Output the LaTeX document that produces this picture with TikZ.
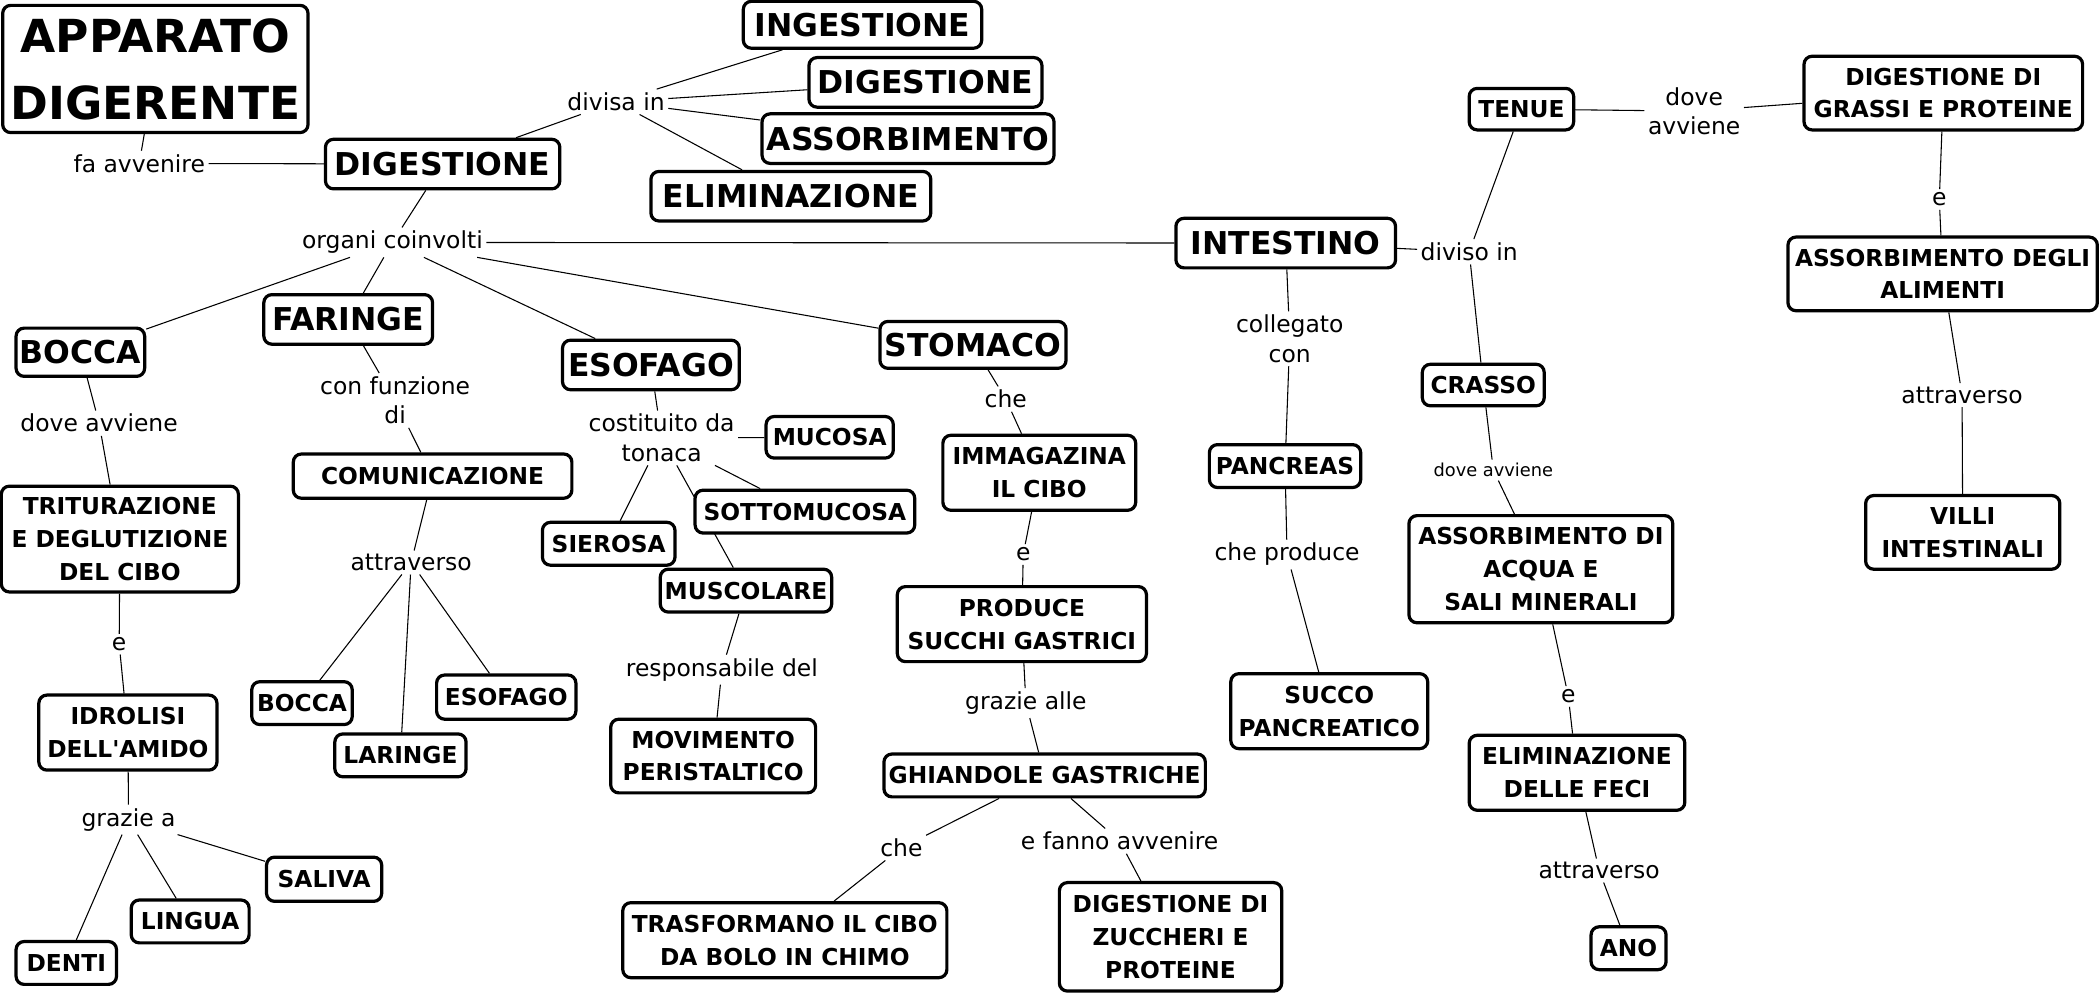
\documentclass[tikz,border=0pt]{standalone}
\usepackage{fontspec}
\setmainfont{DejaVu Sans}[Ligatures=TeXOff]
\usetikzlibrary{backgrounds}
\tikzset{
  box/.style={draw, fill=white, line width=2.4pt, rounded corners=6pt, inner sep=0pt, align=center},
  bigbox/.style={box, font=\fontsize{23.5}{28}\selectfont\bfseries},
  smallbox/.style={box, font=\fontsize{17.4}{24.5}\selectfont\bfseries},
  lab/.style={font=\fontsize{17.5}{22}\selectfont, inner sep=2.5pt, align=center},
  link/.style={line width=0.8pt},
}
\begin{document}
\begin{tikzpicture}[x=1pt,y=-1pt]
\useasboundingbox (0,0) rectangle (1568,741.4);
% top
\node[bigbox, minimum width=228, minimum height=95, font=\fontsize{34}{50}\selectfont\bfseries] (app) at (116,51.5) {APPARATO\\DIGERENTE};
\node[lab] (faav) at (104,122) {fa avvenire};
\node[bigbox, minimum width=175, minimum height=37] (dig) at (330.5,122.5) {DIGESTIONE};
\node[lab] (divisa) at (460,76) {divisa in};
\node[bigbox, minimum width=178, minimum height=35] (inge) at (644,18.5) {INGESTIONE};
\node[bigbox, minimum width=174, minimum height=37] (dig2) at (691,61.5) {DIGESTIONE};
\node[bigbox, minimum width=218, minimum height=37] (assor) at (678,103.5) {ASSORBIMENTO};
\node[bigbox, minimum width=209, minimum height=37] (elim) at (590.5,146.5) {ELIMINAZIONE};
\node[lab] (organi) at (293,181) {organi coinvolti};
\node[bigbox, minimum width=164, minimum height=37] (intes) at (960,181.5) {INTESTINO};
\node[bigbox, minimum width=96, minimum height=36] (bocca) at (60,263) {BOCCA};
\node[bigbox, minimum width=126, minimum height=37] (faringe) at (260,238.5) {FARINGE};
\node[bigbox, minimum width=132, minimum height=37] (esof) at (486,272.5) {ESOFAGO};
\node[bigbox, minimum width=139, minimum height=35] (stom) at (726.5,257.5) {STOMACO};
% bocca
\node[lab] (dove1) at (74,316) {dove avviene};
\node[smallbox, minimum width=177, minimum height=79] (trit) at (89.5,402.5) {TRITURAZIONE\\E DEGLUTIZIONE\\DEL CIBO};
\node[lab] (e1) at (89,481) {e};
\node[smallbox, minimum width=133, minimum height=56] (idro) at (95.5,547) {IDROLISI\\DELL'AMIDO};
\node[lab] (grazie) at (96,612) {grazie a};
\node[smallbox, minimum width=86, minimum height=33] (saliva) at (242,656.5) {SALIVA};
\node[smallbox, minimum width=88, minimum height=32] (lingua) at (142,688) {LINGUA};
\node[smallbox, minimum width=75, minimum height=32] (denti) at (49.5,719) {DENTI};
% faringe
\node[lab] (confun) at (295,299) {con funzione\\di};
\node[smallbox, minimum width=208, minimum height=33] (comun) at (323,355.5) {COMUNICAZIONE};
\node[lab] (attr1) at (307,420) {attraverso};
\node[smallbox, minimum width=75, minimum height=32] (bocca2) at (225.5,525) {BOCCA};
\node[smallbox, minimum width=98, minimum height=32] (laringe) at (299,564) {LARINGE};
\node[smallbox, minimum width=104, minimum height=33] (esof2) at (378,520.5) {ESOFAGO};
% esofago
\node[lab] (costit) at (494,327) {costituito da\\tonaca};
\node[smallbox, minimum width=95, minimum height=31] (mucosa) at (619.5,326.5) {MUCOSA};
\node[smallbox, minimum width=164, minimum height=32] (sotto) at (601,382) {SOTTOMUCOSA};
\node[smallbox, minimum width=99, minimum height=32] (sierosa) at (454.5,406) {SIEROSA};
\node[smallbox, minimum width=128, minimum height=32] (musc) at (557,441) {MUSCOLARE};
\node[lab] (resp) at (539,500) {responsabile del};
\node[smallbox, minimum width=153, minimum height=55] (movim) at (532.5,564.5) {MOVIMENTO\\PERISTALTICO};
% stomaco
\node[lab] (che1) at (751,298) {che};
\node[smallbox, minimum width=144, minimum height=56] (immag) at (776,353) {IMMAGAZINA\\IL CIBO};
\node[lab] (e2) at (764,414) {e};
\node[smallbox, minimum width=186, minimum height=56] (produce) at (763,466) {PRODUCE\\SUCCHI GASTRICI};
\node[lab] (grazie2) at (766,525) {grazie alle};
\node[smallbox, minimum width=240, minimum height=32] (ghiand) at (780,579) {GHIANDOLE GASTRICHE};
\node[lab] (che2) at (673,633) {che};
\node[lab] (efanno) at (836,628) {e fanno avvenire};
\node[smallbox, minimum width=242, minimum height=56] (trasf) at (586,702) {TRASFORMANO IL CIBO\\DA BOLO IN CHIMO};
\node[smallbox, minimum width=166, minimum height=81] (digz) at (874,699.5) {DIGESTIONE DI\\ZUCCHERI E\\PROTEINE};
% intestino
\node[lab] (colleg) at (963,253) {collegato\\con};
\node[smallbox, minimum width=113, minimum height=32] (pancr) at (959.5,348) {PANCREAS};
\node[lab] (cheprod) at (961,414) {che produce};
\node[smallbox, minimum width=147, minimum height=56] (succo) at (992.5,531) {SUCCO\\PANCREATICO};
\node[lab] (diviso) at (1097,188) {diviso in};
\node[smallbox, minimum width=78, minimum height=31] (tenue) at (1136,81.5) {TENUE};
\node[lab] (dove2) at (1265,83) {dove\\avviene};
\node[smallbox, minimum width=208, minimum height=55] (diggr) at (1451,69.5) {DIGESTIONE DI\\GRASSI E PROTEINE};
\node[lab] (e3) at (1448,149) {e};
\node[smallbox, minimum width=231, minimum height=55] (assal) at (1450.5,204.5) {ASSORBIMENTO DEGLI\\ALIMENTI};
\node[lab] (attr2) at (1465,295) {attraverso};
\node[smallbox, minimum width=145, minimum height=55] (villi) at (1465.5,397.5) {VILLI\\INTESTINALI};
\node[smallbox, minimum width=91, minimum height=31] (crasso) at (1107.5,287.5) {CRASSO};
\node[lab, font=\fontsize{13.3}{16}\selectfont] (dove3) at (1115,351) {dove avviene};
\node[smallbox, minimum width=197, minimum height=80] (assac) at (1150.5,425) {ASSORBIMENTO DI\\ACQUA E\\SALI MINERALI};
\node[lab] (e4) at (1171,520) {e};
\node[smallbox, minimum width=161, minimum height=56] (elimf) at (1177.5,577) {ELIMINAZIONE\\DELLE FECI};
\node[lab] (attr3) at (1194,650) {attraverso};
\node[smallbox, minimum width=56, minimum height=32] (ano) at (1216,708) {ANO};
\begin{scope}[on background layer]
\fill[white] (0,0) rectangle (1568,741.4);
\foreach \a/\b in {app/faav, faav/dig,
  dig/divisa, divisa/inge, divisa/dig2, divisa/assor, divisa/elim,
  dig/organi, organi/bocca, organi/faringe, organi/esof, organi/stom, organi/intes,
  bocca/dove1, dove1/trit, trit/e1, e1/idro, idro/grazie, grazie/denti, grazie/lingua, grazie/saliva,
  faringe/confun, confun/comun, comun/attr1, attr1/bocca2, attr1/laringe, attr1/esof2,
  esof/costit, costit/mucosa, costit/sotto, costit/sierosa, costit/musc, musc/resp, resp/movim,
  stom/che1, che1/immag, immag/e2, e2/produce, produce/grazie2, grazie2/ghiand, ghiand/che2, che2/trasf, ghiand/efanno, efanno/digz,
  intes/colleg, colleg/pancr, pancr/cheprod, cheprod/succo,
  intes/diviso, diviso/tenue, diviso/crasso, tenue/dove2, dove2/diggr, diggr/e3, e3/assal, assal/attr2, attr2/villi,
  crasso/dove3, dove3/assac, assac/e4, e4/elimf, elimf/attr3, attr3/ano}
  \draw[link] (\a) -- (\b);
\end{scope}
\end{tikzpicture}
\end{document}
